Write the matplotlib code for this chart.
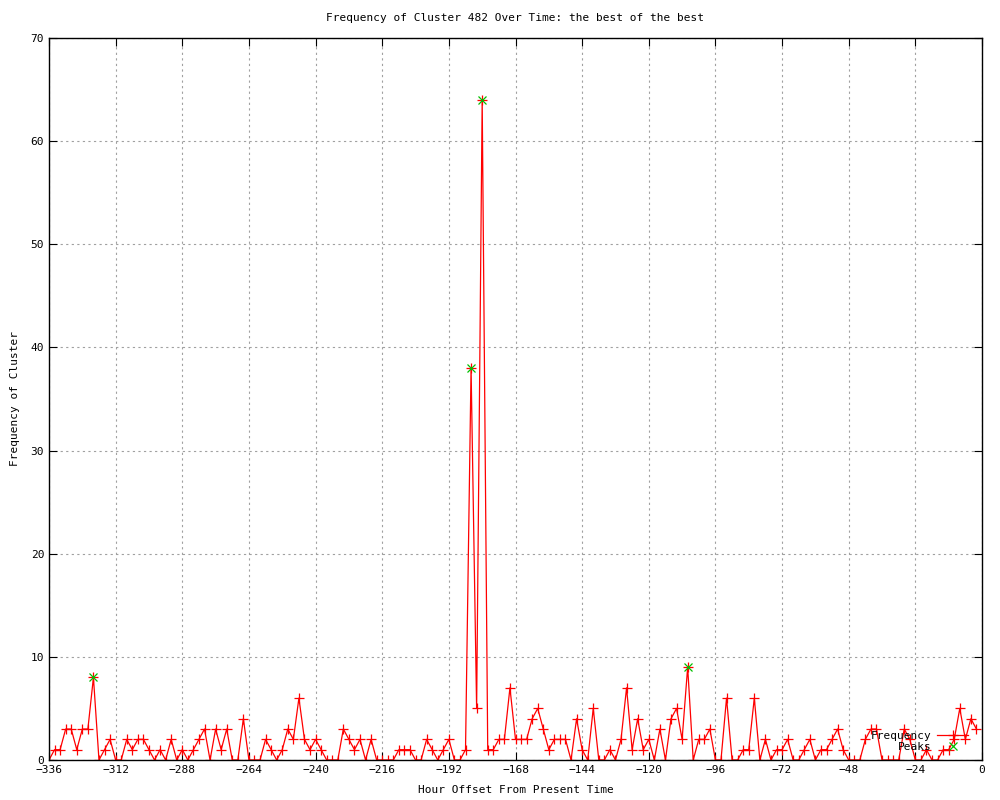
import numpy as np
import matplotlib
matplotlib.use("Agg")
import matplotlib.pyplot as plt

# hour offsets, one sample every 2 hours
hours = list(range(-336, 0, 2))

freq = [0, 1, 1, 3, 3, 1, 3, 3, 8, 0,
        1, 2, 0, 0, 2, 1, 2, 2, 1, 0,
        1, 0, 2, 0, 1, 0, 1, 2, 3, 0,
        3, 1, 3, 0, 0, 4, 0, 0, 0, 2,
        1, 0, 1, 3, 2, 6, 2, 1, 2, 1,
        0, 0, 0, 3, 2, 1, 2, 0, 2, 0,
        0, 0, 0, 1, 1, 1, 0, 0, 2, 1,
        0, 1, 2, 0, 0, 1, 38, 5, 64, 1,
        1, 2, 2, 7, 2, 2, 2, 4, 5, 3,
        1, 2, 2, 2, 0, 4, 1, 0, 5, 0,
        0, 1, 0, 2, 7, 1, 4, 1, 2, 0,
        3, 0, 4, 5, 2, 9, 0, 2, 2, 3,
        0, 0, 6, 0, 0, 1, 1, 6, 0, 2,
        0, 1, 1, 2, 0, 0, 1, 2, 0, 1,
        1, 2, 3, 1, 0, 0, 0, 2, 3, 3,
        0, 0, 0, 0, 3, 2, 0, 0, 1, 0,
        0, 1, 1, 2, 5, 2, 4, 3]

peak_hours = [-320, -184, -180, -106]
peak_vals = [8, 38, 64, 9]

xticks = list(range(-336, 1, 24))
yticks = list(range(0, 71, 10))

plt.rcParams['font.family'] = ['DejaVu Sans Mono']
plt.rcParams['font.size'] = 8

fig = plt.figure(figsize=(10, 8), dpi=100)
ax = fig.add_axes([0.049, 0.05, 0.933, 0.9025])

ax.plot(hours, freq, color="red", lw=0.9, marker="+", ms=7, mew=0.9,
        label="Frequency")
ax.plot(peak_hours, peak_vals, ls="none", color="#00c000", marker="x", ms=6,
        mew=0.9, label="Peaks")

ax.set_xlim(-336, 0)
ax.set_ylim(0, 70)
ax.set_xticks(xticks)
ax.set_yticks(yticks)
ax.tick_params(direction="in", length=6, top=True, right=True, width=0.8)
ax.grid(True, color="#a0a0a0", ls=(0, (2, 3)), lw=0.8)
ax.set_axisbelow(True)
for s in ax.spines.values():
    s.set_linewidth(1)

ax.set_title("Frequency of Cluster 482 Over Time: the best of the best",
             fontsize=8, pad=12)
ax.set_xlabel("Hour Offset From Present Time", labelpad=7)
ax.set_ylabel("Frequency of Cluster", labelpad=8)

ax.legend(loc="lower right", bbox_to_anchor=(0.99, 0.005), frameon=False,
          markerfirst=False, handlelength=2.8, handletextpad=0.5,
          labelspacing=0.1, borderaxespad=0)

fig.savefig("out.png", dpi=100, facecolor="white")
